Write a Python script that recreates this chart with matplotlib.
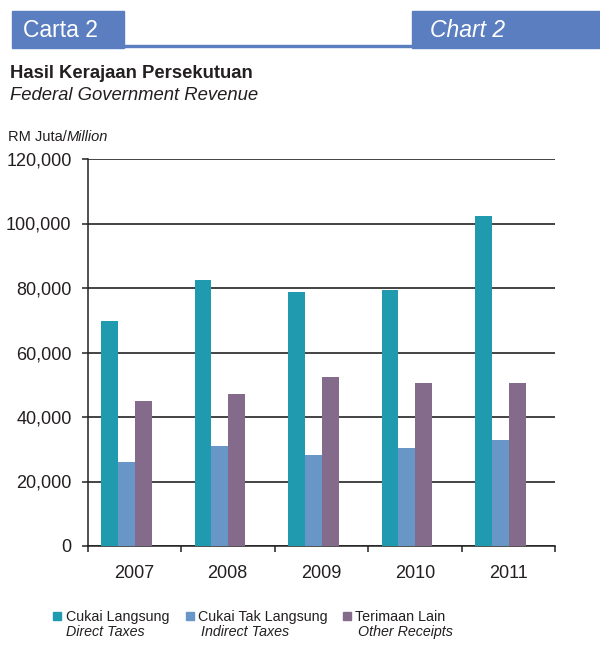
import numpy as np
import matplotlib
matplotlib.use("Agg")
import matplotlib.pyplot as plt
from matplotlib.patches import Rectangle

plt.rcParams['font.family'] = ['Liberation Sans', 'DejaVu Sans']

# data (RM million)
years = ['2007', '2008', '2009', '2010', '2011']
direct_taxes = [69800, 82500, 78800, 79400, 102300]
indirect_taxes = [26000, 31000, 28200, 30400, 32900]
other_receipts = [45000, 47100, 52400, 50500, 50500]

series_my = ['Cukai Langsung', 'Cukai Tak Langsung', 'Terimaan Lain']
series_en = ['Direct Taxes', 'Indirect Taxes', 'Other Receipts']
colors = ['#1F9AAE', '#6897C7', '#846B8B']

W, H = 600, 652
txt = '#231F20'
hdr = '#5A7EBF'

fig = plt.figure(figsize=(6, 6.52), dpi=100)

def fx(px):
    return px / W

def fy(py):
    return 1 - py / H

# header boxes
fig.patches.append(Rectangle((fx(12), fy(47.5)), fx(112), 36 / H,
                             transform=fig.transFigure, color=hdr, zorder=0))
fig.patches.append(Rectangle((fx(412), fy(47.5)), fx(188), 36 / H,
                             transform=fig.transFigure, color=hdr, zorder=0))
fig.patches.append(Rectangle((fx(124), fy(46.5)), fx(288), 2 / H,
                             transform=fig.transFigure, color=hdr, zorder=0))
fig.text(fx(23), fy(37), 'Carta 2', color='white', fontsize=16.5, va='baseline')
fig.text(fx(430), fy(37), 'Chart 2', color='white', fontsize=16.5,
         style='italic', va='baseline')

# titles
fig.text(fx(10), fy(78), 'Hasil Kerajaan Persekutuan', color=txt,
         fontsize=13.3, fontweight='bold', va='baseline')
fig.text(fx(10), fy(100), 'Federal Government Revenue', color=txt,
         fontsize=13.3, style='italic', va='baseline')

# unit label: upright part then italic part right after it
renderer = fig.canvas.get_renderer()
t_rm = fig.text(fx(8), fy(141), 'RM Juta/', color=txt, fontsize=10.5,
                va='baseline')
bb = t_rm.get_window_extent(renderer)
fig.text(bb.x1 / W, fy(141), 'Million', color=txt, fontsize=10.5,
         style='italic', va='baseline')

# chart
ax = fig.add_axes([fx(87.5), fy(546), fx(555 - 87.5), (546 - 159) / H])
x = np.arange(len(years))
w = 0.18
shift = -0.085
for i, vals in enumerate([direct_taxes, indirect_taxes, other_receipts]):
    ax.bar(x + shift + (i - 1) * w, vals, width=w, color=colors[i], zorder=3)

ax.set_xlim(-0.5, 4.5)
ax.set_ylim(0, 120000)
ax.set_yticks(np.arange(0, 120001, 20000))
ax.set_yticklabels([f'{v:,}' for v in range(0, 120001, 20000)])
ax.yaxis.grid(True, color='#111111', linewidth=1.1, zorder=0)
ax.set_axisbelow(True)

ax.set_xticks(x)
ax.set_xticklabels(years)
ax.set_xticks(np.arange(-0.5, 5, 1), minor=True)
ax.tick_params(axis='x', which='major', length=0, pad=14, labelsize=13,
               colors=txt)
ax.tick_params(axis='x', which='minor', length=4.5, width=1.1,
               direction='out', color='#222222')
ax.tick_params(axis='y', length=4.5, width=1.1, pad=7, labelsize=13,
               colors=txt, color='#222222')

for s in ['top', 'right']:
    ax.spines[s].set_visible(False)
for s in ['left', 'bottom']:
    ax.spines[s].set_color('#222222')
    ax.spines[s].set_linewidth(1.1)

# legend
sq_x = [53, 186, 343]
t1_x = [66, 198, 355]
t2_x = [66, 201, 358]
for i in range(3):
    fig.patches.append(Rectangle((fx(sq_x[i]), fy(620)), fx(8), 8 / H,
                                 transform=fig.transFigure, color=colors[i]))
    fig.text(fx(t1_x[i]), fy(621), series_my[i], color=txt, fontsize=10.3,
             va='baseline')
    fig.text(fx(t2_x[i]), fy(636), series_en[i], color=txt, fontsize=10.3,
             style='italic', va='baseline')

fig.savefig('out.png', dpi=100)
